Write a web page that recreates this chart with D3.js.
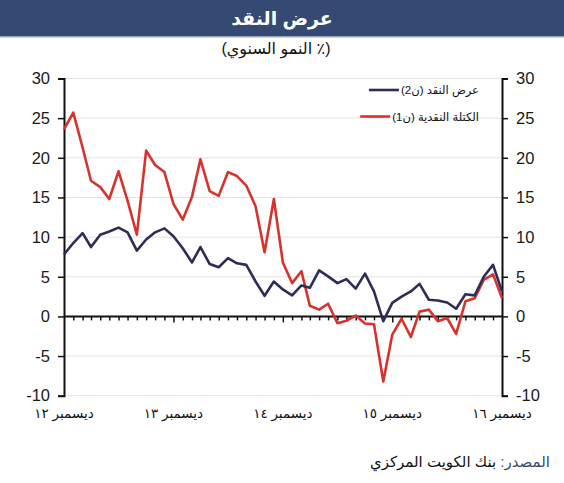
<!DOCTYPE html>
<html lang="ar">
<head>
<meta charset="utf-8">
<script src="https://cdn.jsdelivr.net/npm/d3@7/dist/d3.min.js"></script>
<style>
  html, body { margin: 0; padding: 0; background: #fff; }
  svg { display: block; font-family: Arial, "Liberation Sans", "DejaVu Sans", sans-serif; }
</style>
</head>
<body>
<svg id="chart" width="564" height="483"></svg>
<script>
// ---- Data (monthly, Dec 2012 .. Dec 2016) ----
const startMonth = "2012-12";
const endMonth = "2016-12";
const m2Values = [7.8, 9.25, 10.5, 8.75, 10.3, 10.7, 11.2, 10.6, 8.3, 9.7, 10.6, 11.1, 10.1,
  8.6, 6.8, 8.75, 6.6, 6.2, 7.35, 6.7, 6.5, 4.4, 2.6, 4.4, 3.4,
  2.65, 3.9, 3.6, 5.8, 5.05, 4.2, 4.7, 3.5, 5.4, 3.15, -0.6, 1.7,
  2.5, 3.15, 4.1, 2.1, 2.0, 1.75, 0.97, 2.8, 2.65, 5.0, 6.5, 3.15];
const m1Values = [23.6, 25.7, 21.3, 17.1, 16.3, 14.8, 18.3, 14.6, 10.3, 20.9, 19.1, 18.2, 14.2,
  12.2, 15.1, 19.8, 15.8, 15.2, 18.2, 17.7, 16.5, 13.9, 8.1, 14.8, 6.8,
  4.2, 5.7, 1.35, 0.85, 1.6, -0.85, -0.55, 0.1, -0.9, -1.0, -8.2, -2.3,
  -0.3, -2.6, 0.6, 0.85, -0.6, -0.2, -2.2, 1.9, 2.3, 4.6, 5.3, 2.3];
const yTicks = [-10, -5, 0, 5, 10, 15, 20, 25, 30];
const xTickLabels = ["ديسمبر ١٢", "ديسمبر ١٣", "ديسمبر ١٤", "ديسمبر ١٥", "ديسمبر ١٦"];
const seriesNames = ["عرض النقد (ن2)", "الكتلة النقدية (ن1)"];
const titleText = "عرض النقد";
const subtitleText = "(٪ النمو السنوي)";
const sourceLabel = "المصدر:";
const sourceText = " بنك الكويت المركزي";

const parse = d3.timeParse("%Y-%m");
const months = d3.timeMonth.range(parse(startMonth), d3.timeMonth.offset(parse(endMonth), 1));
const decembers = months.filter(d => d.getMonth() === 11);

const svg = d3.select("#chart");
const W = 564, H = 483;
const pL = 64, pR = 502, pT = 78.5, pB = 395.7;

const x = d3.scaleTime().domain([months[0], months[months.length - 1]]).range([pL, pR]);
const y = d3.scaleLinear().domain([-10, 30]).range([pB, pT]);

// Title bar
svg.append("rect").attr("x", 0).attr("y", 0).attr("width", W).attr("height", 36).attr("fill", "#354a72");
svg.append("rect").attr("x", 0).attr("y", 36).attr("width", W).attr("height", 1.5).attr("fill", "#9aa6bb");
svg.append("text").attr("x", 282).attr("y", 25).attr("text-anchor", "middle")
  .attr("fill", "#fff").attr("font-size", 19).attr("font-weight", "bold").attr("direction", "rtl")
  .text(titleText);
svg.append("text").attr("x", 276).attr("y", 54).attr("text-anchor", "middle")
  .attr("fill", "#111").attr("font-size", 16).attr("direction", "rtl").text(subtitleText);

// Gridlines
svg.append("g").selectAll("line").data(yTicks.filter(t => t !== 0)).join("line")
  .attr("x1", pL).attr("x2", pR).attr("y1", d => y(d)).attr("y2", d => y(d))
  .attr("stroke", "#e3e3e3").attr("stroke-width", 1);

// Left axis
const fmt = d => String(d);
const gL = svg.append("g").attr("transform", `translate(${pL},0)`)
  .call(d3.axisLeft(y).tickValues(yTicks).tickSize(6).tickPadding(8).tickFormat(fmt));
// Right axis
const gR = svg.append("g").attr("transform", `translate(${pR},0)`)
  .call(d3.axisRight(y).tickValues(yTicks).tickSize(6).tickPadding(8).tickFormat(fmt));
[gL, gR].forEach(g => {
  g.select(".domain").attr("stroke", "#111").attr("stroke-width", 2);
  g.selectAll(".tick line").attr("stroke", "#111").attr("stroke-width", 1.5);
  g.selectAll(".tick text").attr("font-size", 16.5).attr("fill", "#1a1a1a")
    .attr("font-family", "Arial, 'Liberation Sans', sans-serif");
});

// Zero line with monthly ticks
const gX = svg.append("g").attr("transform", `translate(0,${y(0)})`)
  .call(d3.axisBottom(x).tickValues(months.slice(1, -1)).tickSize(4).tickFormat(""));
gX.select(".domain").attr("stroke", "#111").attr("stroke-width", 2).attr("d", `M${pL},0H${pR}`);
gX.selectAll(".tick line").attr("stroke", "#111").attr("stroke-width", 1.5)
  .attr("y2", d => d.getMonth() === 11 ? 6 : 4);

// X labels (Decembers)
svg.append("g").selectAll("text").data(decembers).join("text")
  .attr("x", d => x(d)).attr("y", 418).attr("text-anchor", "middle")
  .attr("font-size", 13.5).attr("fill", "#111").attr("direction", "rtl")
  .text((d, i) => xTickLabels[i]);

// Lines
const line = d3.line().x((d, i) => x(months[i])).y(d => y(d));
svg.append("path").datum(m1Values).attr("d", line).attr("fill", "none")
  .attr("stroke", "#d7332c").attr("stroke-width", 2.6).attr("stroke-linejoin", "round");
svg.append("path").datum(m2Values).attr("d", line).attr("fill", "none")
  .attr("stroke", "#2e2d58").attr("stroke-width", 2.6).attr("stroke-linejoin", "round");

// Legend
const legColors = ["#2e2d58", "#d7332c"];
const leg = svg.append("g");
seriesNames.forEach((name, i) => {
  const ly = 90 + i * 26.5;
  const t = leg.append("text").attr("x", 479).attr("y", ly + 4).attr("text-anchor", "start")
    .attr("direction", "rtl").attr("font-size", 11.5).attr("fill", "#111").text(name);
  const w = t.node().getComputedTextLength();
  const xEnd = 479 - w - 2;
  leg.append("line").attr("x1", xEnd - 30).attr("x2", xEnd).attr("y1", ly).attr("y2", ly)
    .attr("stroke", legColors[i]).attr("stroke-width", 2.6);
});

// Source
const src = svg.append("text").attr("x", 550).attr("y", 467).attr("direction", "rtl")
  .attr("text-anchor", "start").attr("font-size", 15).attr("fill", "#111");
src.append("tspan").attr("fill", "#344a72").text(sourceLabel);
src.append("tspan").text(sourceText);
</script>
</body>
</html>
